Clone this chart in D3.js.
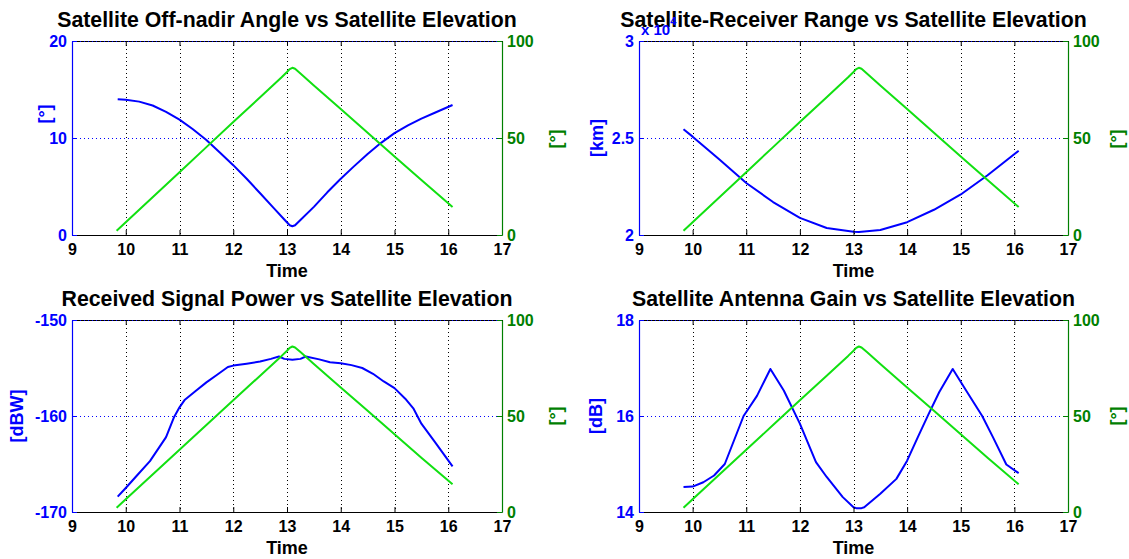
<!DOCTYPE html>
<html>
<head>
<meta charset="utf-8">
<script src="https://cdn.jsdelivr.net/npm/d3@7"></script>
<style>
  body { margin: 0; background: #fff; }
  svg { display: block; }
  text { font-family: "Liberation Sans", Arial, Helvetica, sans-serif; font-weight: bold; }
</style>
</head>
<body>
<svg id="fig" width="1129" height="559"></svg>
<script>
// ---- data -------------------------------------------------------------
const timeTicks = [9, 10, 11, 12, 13, 14, 15, 16, 17];
const elevTicks = [0, 50, 100];

// satellite elevation [deg] over the pass
const elevTime  = [9.83, 10.0, 10.5, 11.0, 11.5, 12.0, 12.5, 12.9, 13.0, 13.05, 13.1, 13.15, 13.25, 13.5, 14.0, 14.5, 15.0, 15.5, 16.08];
const elevation = [2.2, 6.6, 19.5, 32.4, 45.3, 58.2, 71.0, 81.3, 84.0, 85.5, 86.2, 85.7, 83.3, 77.1, 64.9, 52.7, 40.5, 28.3, 14.4];

// off-nadir angle [deg]
const angleTicks = [0, 10, 20];
const angleTime = [9.85, 10.0, 10.25, 10.5, 10.75, 11.0, 11.25, 11.5, 11.75, 12.0, 12.25, 12.5, 12.75, 12.95, 13.05, 13.1, 13.15, 13.25, 13.5, 13.75, 14.0, 14.25, 14.5, 14.75, 15.0, 15.25, 15.5, 15.75, 16.08];
const offNadir  = [14.0, 13.95, 13.75, 13.35, 12.7, 11.9, 10.9, 9.8, 8.5, 7.2, 5.8, 4.3, 2.8, 1.6, 1.0, 0.9, 1.0, 1.55, 2.9, 4.4, 5.8, 7.1, 8.35, 9.5, 10.5, 11.3, 12.0, 12.6, 13.4];

// satellite-receiver range [km]
const rangeTicks = [20000, 25000, 30000];
const rangeTime = [9.83, 10.0, 10.5, 11.0, 11.5, 12.0, 12.5, 13.0, 13.1, 13.5, 14.0, 14.5, 15.0, 15.5, 16.08];
const rangeKm   = [25450, 25070, 23890, 22680, 21700, 20880, 20360, 20170, 20160, 20260, 20660, 21300, 22090, 23080, 24340];

// received signal power [dBW]
const powerTicks = [-170, -160, -150];
const powerTime = [9.85, 10.0, 10.2, 10.45, 10.75, 10.9, 11.0, 11.1, 11.3, 11.5, 11.7, 11.9, 12.0, 12.25, 12.5, 12.7, 12.85, 12.95, 13.1, 13.25, 13.35, 13.6, 13.8, 14.0, 14.2, 14.4, 14.6, 14.8, 15.0, 15.2, 15.35, 15.5, 15.75, 16.08];
const rxPower   = [-168.4, -167.5, -166.25, -164.7, -162.2, -160.1, -159.1, -158.3, -157.4, -156.5, -155.7, -154.9, -154.75, -154.55, -154.33, -154.05, -153.8, -154.05, -154.15, -154.05, -153.8, -154.1, -154.4, -154.5, -154.7, -155.0, -155.6, -156.4, -157.1, -158.2, -159.2, -160.8, -162.7, -165.25];

// satellite antenna gain [dB]
const gainTicks = [14, 16, 18];
const gainTime = [9.83, 10.0, 10.2, 10.4, 10.6, 10.95, 11.2, 11.45, 11.7, 12.0, 12.3, 12.5, 12.8, 13.0, 13.05, 13.15, 13.2, 13.5, 13.8, 14.0, 14.2, 14.4, 14.6, 14.85, 15.1, 15.4, 15.6, 15.85, 16.08];
const antGain  = [14.52, 14.53, 14.62, 14.76, 15.0, 16.0, 16.42, 16.98, 16.53, 15.84, 15.04, 14.73, 14.31, 14.1, 14.08, 14.08, 14.1, 14.38, 14.69, 15.07, 15.56, 16.04, 16.5, 16.98, 16.53, 16.0, 15.56, 14.99, 14.81];

// ---- styling & layout -------------------------------------------------
const BLUE = "#0000ff";
const GREEN_LINE = "#11e011";
const GREEN_AXIS = "#008000";
const TICK_FONT = 16;
const LABEL_FONT = 18;
const TITLE_FONT = 21.3;

const panels = [
  { title: "Satellite Off-nadir Angle vs Satellite Elevation",
    box: { x0: 72, x1: 502, y0: 41, y1: 235 },
    t: angleTime, v: offNadir, ticks: angleTicks, fmt: d => String(d),
    yLabel: "[°]", yLabelPos: [45, 114], rLabelPos: [556, 139] },
  { title: "Satellite-Receiver Range vs Satellite Elevation",
    box: { x0: 639, x1: 1068, y0: 41, y1: 235 },
    t: rangeTime, v: rangeKm, ticks: rangeTicks, fmt: d => String(d / 1e4),
    yLabel: "[km]", yLabelPos: [597, 138], rLabelPos: [1117, 139], exponent: "4" },
  { title: "Received Signal Power vs Satellite Elevation",
    box: { x0: 72, x1: 502, y0: 320, y1: 512 },
    t: powerTime, v: rxPower, ticks: powerTicks, fmt: d => String(d),
    yLabel: "[dBW]", yLabelPos: [17, 416], rLabelPos: [556, 416] },
  { title: "Satellite Antenna Gain vs Satellite Elevation",
    box: { x0: 639, x1: 1068, y0: 320, y1: 512 },
    t: gainTime, v: antGain, ticks: gainTicks, fmt: d => String(d),
    yLabel: "[dB]", yLabelPos: [596, 416], rLabelPos: [1117, 416] }
];

const svg = d3.select("#fig");
svg.append("rect").attr("width", 1129).attr("height", 559).attr("fill", "#fff");

function styleAxis(g, color) {
  g.attr("font-size", null).attr("font-family", null);
  g.selectAll("text").attr("font-size", TICK_FONT).attr("fill", color);
  g.selectAll("line").attr("stroke", color);
  g.select(".domain").attr("stroke", color).attr("stroke-width", 1.2);
}

panels.forEach(p => {
  const { x0, x1, y0, y1 } = p.box;
  const x = d3.scaleLinear().domain([9, 17]).range([x0, x1]);
  const yL = d3.scaleLinear().domain(d3.extent(p.ticks)).range([y1, y0]);
  const yR = d3.scaleLinear().domain([0, 100]).range([y1, y0]);
  const g = svg.append("g");

  // top frame edge
  g.append("line").attr("x1", x0).attr("x2", x1).attr("y1", y0 + 0.5).attr("y2", y0 + 0.5)
    .attr("stroke", "#000").attr("stroke-width", 1.2);

  // vertical grid (time)
  g.append("g").selectAll("line").data(timeTicks.slice(1, -1)).join("line")
    .attr("x1", d => Math.round(x(d)) + 0.5).attr("x2", d => Math.round(x(d)) + 0.5)
    .attr("y1", y0).attr("y2", y1)
    .attr("stroke", "#000").attr("stroke-width", 1).attr("stroke-dasharray", "1,3");

  // horizontal grid (left axis)
  g.append("g").selectAll("line").data(p.ticks.slice(1)).join("line")
    .attr("x1", x0).attr("x2", x1)
    .attr("y1", d => Math.round(yL(d)) + 0.5).attr("y2", d => Math.round(yL(d)) + 0.5)
    .attr("stroke", BLUE).attr("stroke-width", 1).attr("stroke-dasharray", "1,3");

  // top ticks
  g.append("g").attr("transform", `translate(0,${y0})`)
    .call(d3.axisTop(x).tickValues(timeTicks).tickSize(-5).tickSizeOuter(0).tickFormat(""))
    .call(a => { a.select(".domain").remove(); a.selectAll("line").attr("stroke", "#000"); });

  // series
  const lineL = d3.line().x((d, i) => x(p.t[i])).y(d => yL(d));
  g.append("path").datum(p.v).attr("d", lineL)
    .attr("fill", "none").attr("stroke", BLUE).attr("stroke-width", 2)
    .attr("stroke-linejoin", "round");
  const lineR = d3.line().x((d, i) => x(elevTime[i])).y(d => yR(d));
  g.append("path").datum(elevation).attr("d", lineR)
    .attr("fill", "none").attr("stroke", GREEN_LINE).attr("stroke-width", 2)
    .attr("stroke-linejoin", "round");

  // bottom axis
  g.append("g").attr("transform", `translate(0,${y1})`)
    .call(d3.axisBottom(x).tickValues(timeTicks).tickSize(-5).tickSizeOuter(0).tickPadding(9).tickFormat(d => String(d)))
    .call(a => styleAxis(a, "#000"));

  // left axis
  g.append("g").attr("transform", `translate(${x0},0)`)
    .call(d3.axisLeft(yL).tickValues(p.ticks).tickSize(-5).tickSizeOuter(0).tickPadding(5).tickFormat(p.fmt))
    .call(a => styleAxis(a, BLUE));

  // right axis
  g.append("g").attr("transform", `translate(${x1},0)`)
    .call(d3.axisRight(yR).tickValues(elevTicks).tickSize(-5).tickSizeOuter(0).tickPadding(5).tickFormat(d => String(d)))
    .call(a => styleAxis(a, GREEN_AXIS));

  // axis labels
  g.append("text").attr("x", (x0 + x1) / 2).attr("y", y1 + 42)
    .attr("text-anchor", "middle").attr("font-size", LABEL_FONT).attr("fill", "#000").text("Time");
  g.append("text").attr("transform", `translate(${p.yLabelPos[0]},${p.yLabelPos[1]}) rotate(-90)`)
    .attr("text-anchor", "middle").attr("dominant-baseline", "central")
    .attr("font-size", LABEL_FONT).attr("fill", BLUE).text(p.yLabel);
  g.append("text").attr("transform", `translate(${p.rLabelPos[0]},${p.rLabelPos[1]}) rotate(-90)`)
    .attr("text-anchor", "middle").attr("dominant-baseline", "central")
    .attr("font-size", LABEL_FONT).attr("fill", GREEN_AXIS).text("[°]");

  // title
  g.append("text").attr("x", (x0 + x1) / 2).attr("y", y0 - 14)
    .attr("text-anchor", "middle").attr("font-size", TITLE_FONT).attr("fill", "#000").text(p.title);

  // axis multiplier (drawn over the title, as the axes exponent label)
  if (p.exponent) {
    const e = g.append("text").attr("x", x0 + 2).attr("y", y0 - 6).attr("fill", BLUE).attr("font-size", 15);
    e.append("tspan").text("x 10");
    e.append("tspan").attr("dy", -10).attr("font-size", 11).text(p.exponent);
  }
});
</script>
</body>
</html>
